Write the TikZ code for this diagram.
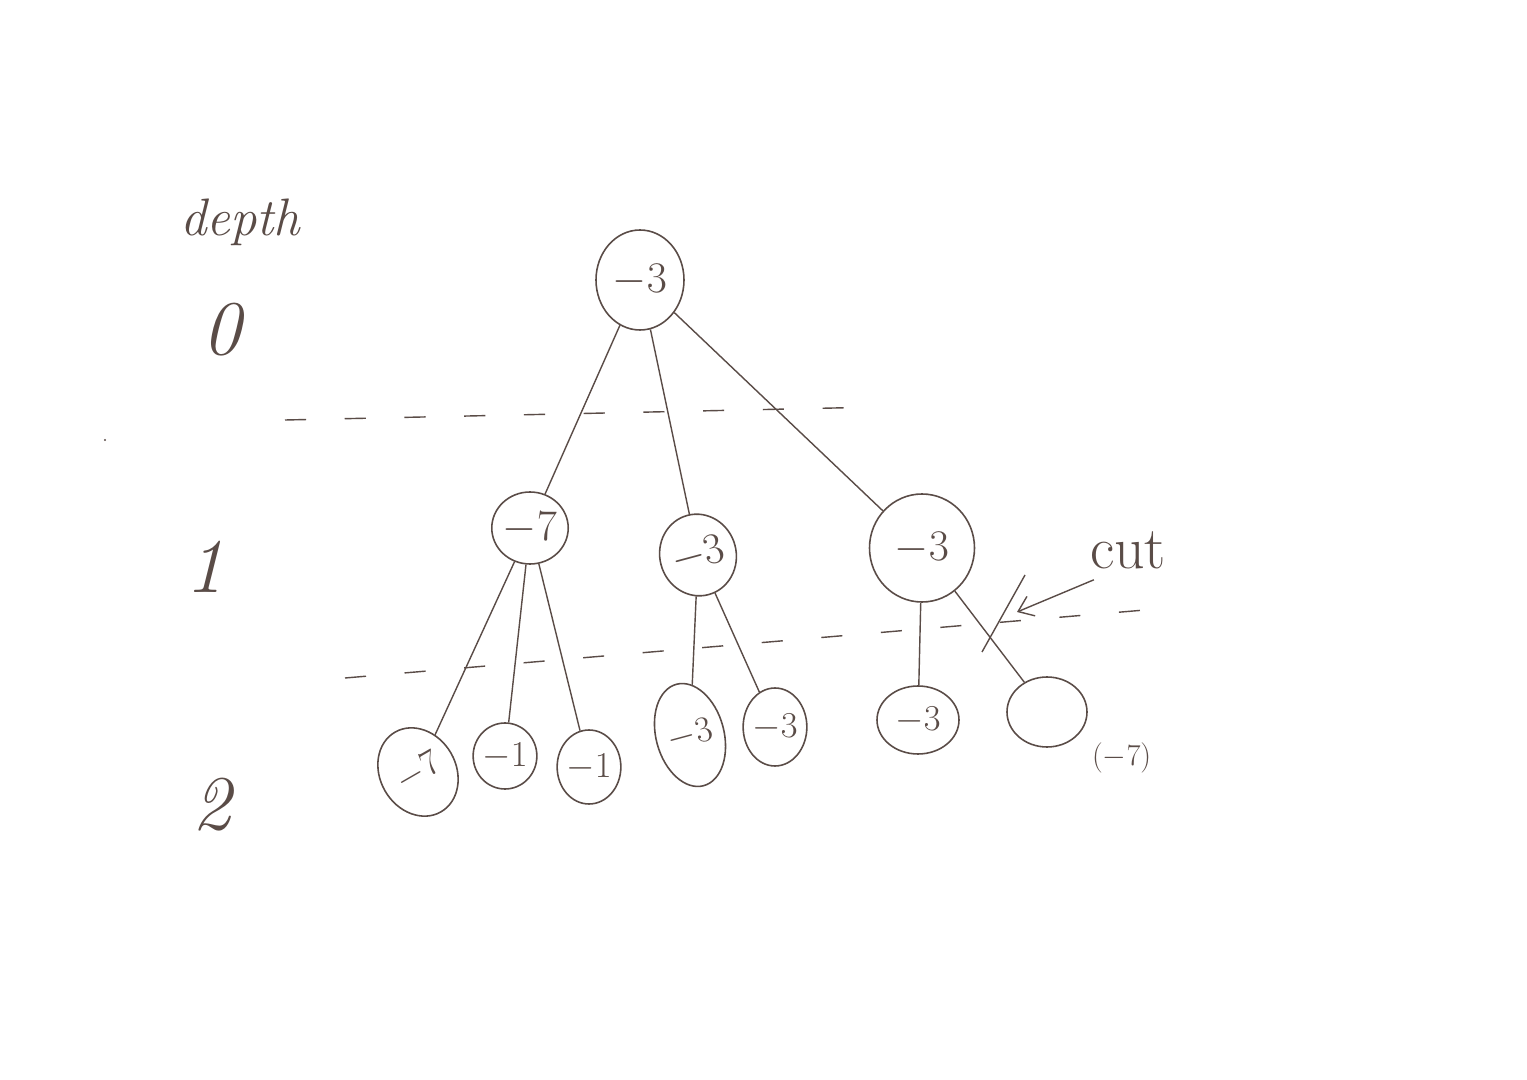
\documentclass[tikz,border=0pt]{standalone}
\usetikzlibrary{shapes.geometric,arrows.meta}
\definecolor{ink}{HTML}{5A4C47}
\begin{document}
\begin{tikzpicture}[x=0.2mm,y=-0.2mm,
  nd/.style={draw=ink,line width=0.9pt,ellipse,inner sep=0pt,text=ink,font=\fontsize{24}{26}\selectfont},
  lf/.style={nd,font=\fontsize{20}{22}\selectfont},
  edge/.style={draw=ink,line width=0.8pt},
  lvl/.style={text=ink,font=\fontsize{44}{48}\itshape\selectfont},
  dsh/.style={draw=ink,line width=0.8pt,dash pattern=on 12pt off 22pt}]
\fill[white] (0,0) rectangle (1527,1080);
% depth labels
\node[text=ink,font=\fontsize{30}{34}\itshape\selectfont] (dlab) at (240,222) {depth};
\node[lvl] (d0) at (222,330) {0};
\node[lvl] (d1) at (205,567) {1};
\node[lvl] (d2) at (212,805) {2};
% tree
\node[nd,minimum width=88*0.2mm,minimum height=100*0.2mm] (r) at (640,280) {$-3$};
\node[nd,minimum width=75*0.2mm,minimum height=72*0.2mm] (a) at (530,528) {$-7$};
\node[nd,minimum width=74*0.2mm,minimum height=82*0.2mm,rotate=15] (b) at (698,555) {$-3$};
\node[nd,minimum width=105*0.2mm,minimum height=108*0.2mm] (c) at (922,548) {$-3$};
\node[lf,minimum width=76*0.2mm,minimum height=92*0.2mm,rotate=30] (a1) at (418,772) {$-7$};
\node[lf,minimum width=55*0.2mm,minimum height=66*0.2mm] (a2) at (505,756) {$-1$};
\node[lf,minimum width=60*0.2mm,minimum height=74*0.2mm] (a3) at (589,767) {$-1$};
\node[lf,minimum width=68*0.2mm,minimum height=105*0.2mm,rotate=15] (b1) at (690,735) {$-3$};
\node[lf,minimum width=62*0.2mm,minimum height=78*0.2mm] (b2) at (775,727) {$-3$};
\node[lf,minimum width=82*0.2mm,minimum height=68*0.2mm] (c1) at (918,720) {$-3$};
\node[lf,minimum width=80*0.2mm,minimum height=70*0.2mm] (c2) at (1047,712) {};
\node[text=ink,font=\fontsize{16}{18}\selectfont,anchor=west] (c2v) at (1086,758) {$(-7)$};
% edges
\draw[edge] (r) -- (a);
\draw[edge] (r) -- (b);
\draw[edge] (r) -- (c);
\draw[edge] (a) -- (a1);
\draw[edge] (a) -- (a2);
\draw[edge] (a) -- (a3);
\draw[edge] (b) -- (b1);
\draw[edge] (b) -- (b2);
\draw[edge] (c) -- (c1);
\draw[edge] (c) -- (c2);
% depth separators
\coordinate (s1a) at (285,420);
\coordinate (s1b) at (880,407);
\coordinate (s0) at (105,440);
\draw[dsh] (s1a) -- (s1b);
\fill[ink] (s0) circle (1.2);
\coordinate (s2a) at (345,678);
\coordinate (s2b) at (1145,610);
\draw[dsh] (s2a) -- (s2b);
% cut
\node[text=ink,font=\fontsize{34}{38}\selectfont] (cut) at (1128,550) {cut};
\coordinate (x1) at (982,652);
\coordinate (x2) at (1025,575);
\draw[edge] (x1) -- (x2);
\coordinate (ctip) at (1017,612);
\draw[edge,-{Straight Barb[length=8pt,width=12pt]}] (cut.south west) ++(10,5) -- (ctip);
\end{tikzpicture}
\end{document}
